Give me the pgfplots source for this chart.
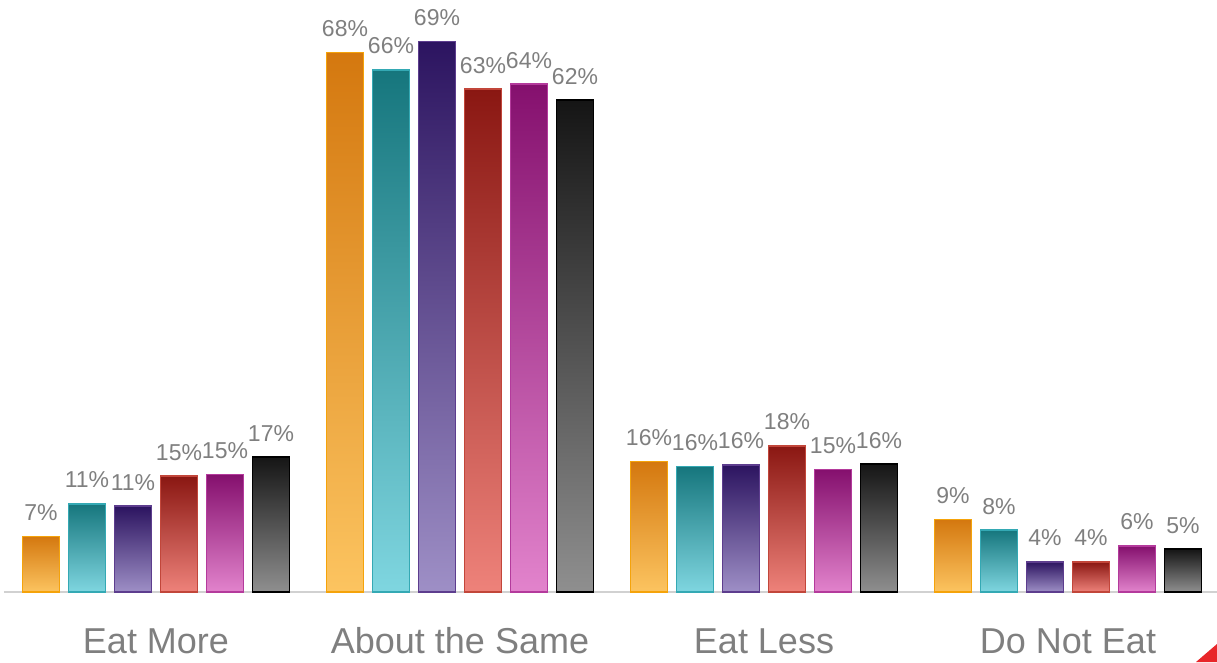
\documentclass[border=0pt]{standalone}
\usepackage{fontspec}
\setmainfont{Liberation Sans}
\usepackage{pgfplots}
\pgfplotsset{compat=1.18}
\definecolor{lbl}{HTML}{7F7F7F}
\definecolor{oT}{HTML}{D4780F}\definecolor{oB}{HTML}{FCC460}\definecolor{oD}{HTML}{F5A30A}
\definecolor{tT}{HTML}{16767D}\definecolor{tB}{HTML}{7FD6E0}\definecolor{tD}{HTML}{34A9B4}
\definecolor{pT}{HTML}{2C1460}\definecolor{pB}{HTML}{9E8FC6}\definecolor{pD}{HTML}{5D3D8E}
\definecolor{rT}{HTML}{8A1712}\definecolor{rB}{HTML}{EE827A}\definecolor{rD}{HTML}{C2463A}
\definecolor{mT}{HTML}{85106E}\definecolor{mB}{HTML}{E283CC}\definecolor{mD}{HTML}{B43A9C}
\definecolor{kT}{HTML}{151515}\definecolor{kB}{HTML}{8F8F8F}\definecolor{kD}{HTML}{000000}
\definecolor{tri}{HTML}{E8262A}
\pgfplotsset{
 sA/.style={ybar, bar shift=-115pt, draw=oD, top color=oT, bottom color=oB, nodes near coords style={xshift=-115pt}},
 sB/.style={ybar, bar shift=-69pt, draw=tD, top color=tT, bottom color=tB, nodes near coords style={xshift=-69pt}},
 sC/.style={ybar, bar shift=-23pt, draw=pD, top color=pT, bottom color=pB, nodes near coords style={xshift=-23pt}},
 sD/.style={ybar, bar shift=23pt, draw=rD, top color=rT, bottom color=rB, nodes near coords style={xshift=23pt}},
 sE/.style={ybar, bar shift=69pt, draw=mD, top color=mT, bottom color=mB, nodes near coords style={xshift=69pt}},
 sF/.style={ybar, bar shift=115pt, draw=kD, top color=kT, bottom color=kB, nodes near coords style={xshift=115pt}},
}
\begin{document}
\begin{tikzpicture}
\path[use as bounding box] (0,0) rectangle (1217pt,662pt);
\begin{axis}[at={(4pt,70pt)}, anchor=south west, scale only axis,
 width=1213pt, height=592pt,
 xmin=-0.5, xmax=3.49, ymin=0, ymax=74.5,
 axis y line=none, axis x line=bottom,
 x axis line style={draw=black!18, line width=1.5pt, -},
 every outer x axis line/.append style={-},
 xtick={0,1,2,3}, xticklabels={Eat More, About the Same, Eat Less, Do Not Eat},
 major tick length=0pt, xtick style={draw=none},
 xticklabel style={font=\fontsize{36}{40}\selectfont, text=lbl, anchor=base, yshift=-61pt},
 bar width=37pt,
 every axis plot/.append style={line width=1.5pt},
 /pgf/number format/assume math mode=true,
 nodes near coords={\pgfmathprintnumber[fixed,precision=0,assume math mode=true]{\pgfplotspointmeta}\%},
 nodes near coords style={font=\fontsize{23}{26}\selectfont, text=lbl, anchor=south, inner sep=0pt, yshift=15pt},
 clip=false]
% Eat More
\addplot[sA] coordinates {(0,7.0)};
\addplot[sB] coordinates {(0,11.1)};
\addplot[sC] coordinates {(0,10.8)};
\addplot[sD] coordinates {(0,14.6)};
\addplot[sE] coordinates {(0,14.8)};
\addplot[sF] coordinates {(0,17.0)};
% About the Same
\addplot[sA] coordinates {(1,67.9)};
\addplot[sB] coordinates {(1,65.7)};
\addplot[sC] coordinates {(1,69.3)};
\addplot[sD] coordinates {(1,63.3)};
\addplot[sE] coordinates {(1,63.9)};
\addplot[sF] coordinates {(1,61.9)};
% Eat Less
\addplot[sA] coordinates {(2,16.4)};
\addplot[sB] coordinates {(2,15.8)};
\addplot[sC] coordinates {(2,16.0)};
\addplot[sD] coordinates {(2,18.4)};
\addplot[sE] coordinates {(2,15.4)};
\addplot[sF] coordinates {(2,16.1)};
% Do Not Eat
\addplot[sA] coordinates {(3,9.1)};
\addplot[sB] coordinates {(3,7.8)};
\addplot[sC] coordinates {(3,3.8)};
\addplot[sD] coordinates {(3,3.8)};
\addplot[sE] coordinates {(3,5.8)};
\addplot[sF] coordinates {(3,5.4)};
\end{axis}
\fill[tri] (1196pt,0) -- (1217pt,0) -- (1217pt,18pt) -- cycle;
\end{tikzpicture}
\end{document}
